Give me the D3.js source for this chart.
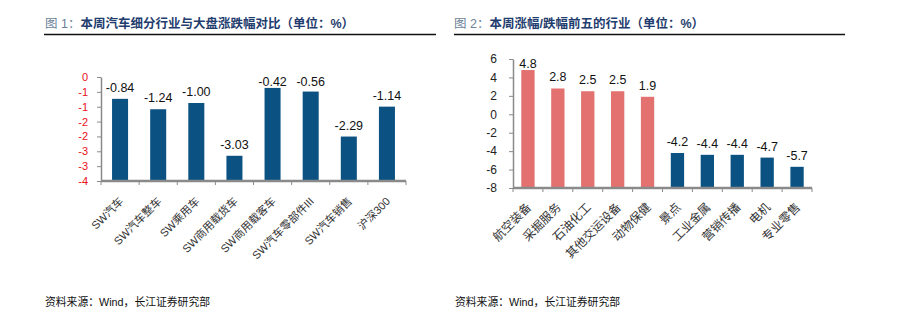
<!DOCTYPE html>
<html><head><meta charset="utf-8">
<script src="https://cdn.jsdelivr.net/npm/d3@7"></script>
<style>
body{margin:0;background:#fff;}
svg{display:block;}
text{font-family:"Liberation Sans","Noto Sans CJK SC",sans-serif;}
</style></head>
<body>
<svg id="c" width="900" height="327"></svg>
<script>
// ---- data ----
const leftTitlePrefix = "图 1：";
const leftTitle = "本周汽车细分行业与大盘涨跌幅对比（单位：%）";
const leftCategories = ["SW汽车","SW汽车整车","SW乘用车","SW商用载货车","SW商用载客车","SW汽车零部件III","SW汽车销售","沪深300"];
const leftValues = [-0.84,-1.24,-1.00,-3.03,-0.42,-0.56,-2.29,-1.14];
const leftTicks = [0,-4/7,-8/7,-12/7,-16/7,-20/7,-24/7,-4];

const rightTitlePrefix = "图 2：";
const rightTitle = "本周涨幅/跌幅前五的行业（单位：%）";
const rightCategories = ["航空装备","采掘服务","石油化工","其他交运设备","动物保健","景点","工业金属","营销传播","电机","专业零售"];
const rightValues = [4.8,2.8,2.5,2.5,1.9,-4.2,-4.4,-4.4,-4.7,-5.7];
const rightLabels = ["4.8","2.8","2.5","2.5","1.9","-4.2","-4.4","-4.4","-4.7","-5.7"];
const rightTicks = [6,4,2,0,-2,-4,-6,-8];

const sourceText = "资料来源：Wind，长江证券研究部";

// ---- drawing ----
const svg = d3.select("#c");
const BLUE = "#0b5283", RED = "#e2716f", AXIS = "#8a8a8a";
const hyph = f => v => f(v).replace("\u2212", "-");

function title(x, prefix, t, lineX0, lineX1){
  const tx = svg.append("text").attr("x", x).attr("y", 28)
    .attr("font-size", 12.5).attr("font-weight", "bold")
    .attr("font-family", "'Noto Sans CJK SC',sans-serif");
  tx.append("tspan").attr("fill", "#6b7f99").attr("font-weight","normal").text(prefix);
  tx.append("tspan").attr("fill", "#1f3d6e").text(t);
  svg.append("line").attr("x1", lineX0).attr("x2", lineX1).attr("y1", 34.5).attr("y2", 34.5)
    .attr("stroke", "#111").attr("stroke-width", 1.5);
}
title(45, leftTitlePrefix, leftTitle, 44, 436);
title(454, rightTitlePrefix, rightTitle, 454, 845);

function source(x){
  svg.append("text").attr("x", x).attr("y", 306).attr("font-size", 11.5)
    .attr("font-family", "'Noto Sans CJK SC',sans-serif")
    .attr("textLength", 165).attr("lengthAdjust", "spacingAndGlyphs")
    .attr("fill", "#111").text(sourceText);
}
source(45); source(455);

function chart(o){
  const g = svg.append("g");
  const x = d3.scaleBand().domain(o.cats).range([o.x0, o.x1])
    .paddingInner(o.pad).paddingOuter(o.pad/2);
  const y = d3.scaleLinear().domain([o.top, o.bottom]).range([o.y0, o.y1]);
  const base = o.bottom;

  // y axis
  const ya = g.append("g").attr("transform", `translate(${o.x0},0)`)
    .call(d3.axisLeft(y).tickValues(o.ticks).tickSize(4).tickSizeOuter(0)
      .tickPadding(o.tickPad).tickFormat(o.fmt));
  ya.select(".domain").attr("stroke", AXIS).attr("stroke-width", 1.5);
  ya.selectAll(".tick line").attr("stroke", AXIS);
  ya.selectAll(".tick text").attr("fill", o.tickColor).attr("font-size", o.tickFont)
    .attr("font-family", "'Liberation Sans',sans-serif");

  // bars
  g.selectAll("rect.bar").data(o.vals).join("rect")
    .attr("x", (d,i) => x(o.cats[i]))
    .attr("width", x.bandwidth())
    .attr("y", d => y(d))
    .attr("height", d => y(base) - y(d))
    .attr("fill", (d,i) => o.color(d,i));

  // value labels
  g.selectAll("text.val").data(o.vals).join("text")
    .attr("x", (d,i) => x(o.cats[i]) + x.bandwidth()/2)
    .attr("y", d => Math.max(y(d) - 7, o.y0 + 9))
    .attr("text-anchor", "middle").attr("font-size", 12.5).attr("fill", "#111")
    .attr("font-family", "'Liberation Sans',sans-serif")
    .text((d,i) => o.labels[i]);

  // x axis
  g.append("line").attr("x1", o.x0).attr("x2", o.x1).attr("y1", y(base)).attr("y2", y(base))
    .attr("stroke", AXIS).attr("stroke-width", 2.5);
  const bounds = d3.range(o.cats.length + 1).map(i => o.x0 + i*(o.x1-o.x0)/o.cats.length);
  g.selectAll("line.xt").data(bounds).join("line")
    .attr("x1", d => d).attr("x2", d => d).attr("y1", y(base)).attr("y2", y(base) + 4)
    .attr("stroke", AXIS);

  // category labels
  g.selectAll("text.cat").data(o.cats).join("text")
    .attr("transform", d => `translate(${x(d) + x.bandwidth()/2 + o.lx},${y(base) + o.ly}) rotate(-45)`)
    .attr("text-anchor", "end").attr("font-size", o.catFont).attr("fill", "#333")
    .attr("font-family", o.catFamily)
    .text(d => d);
}

chart({cats: leftCategories, vals: leftValues, labels: leftValues.map(hyph(d3.format(".2f"))),
  x0: 101, x1: 406, y0: 77, y1: 181, top: 0, bottom: -4, pad: 0.58,
  ticks: leftTicks, fmt: hyph(d3.format(".0f")), tickPad: 9, tickColor: "#e8101a", tickFont: 11,
  color: () => BLUE, lx: 4, ly: 21, catFont: 11,
  catFamily: "'Liberation Sans','Noto Sans CJK SC',sans-serif"});

chart({cats: rightCategories, vals: rightValues, labels: rightLabels,
  x0: 513, x1: 812, y0: 59, y1: 188, top: 6, bottom: -8, pad: 0.555,
  ticks: rightTicks, fmt: hyph(d3.format("d")), tickPad: 12, tickColor: "#222", tickFont: 12,
  color: d => d >= 0 ? RED : BLUE, lx: 4, ly: 20, catFont: 12,
  catFamily: "'Noto Sans CJK SC',sans-serif"});
</script>
</body></html>
